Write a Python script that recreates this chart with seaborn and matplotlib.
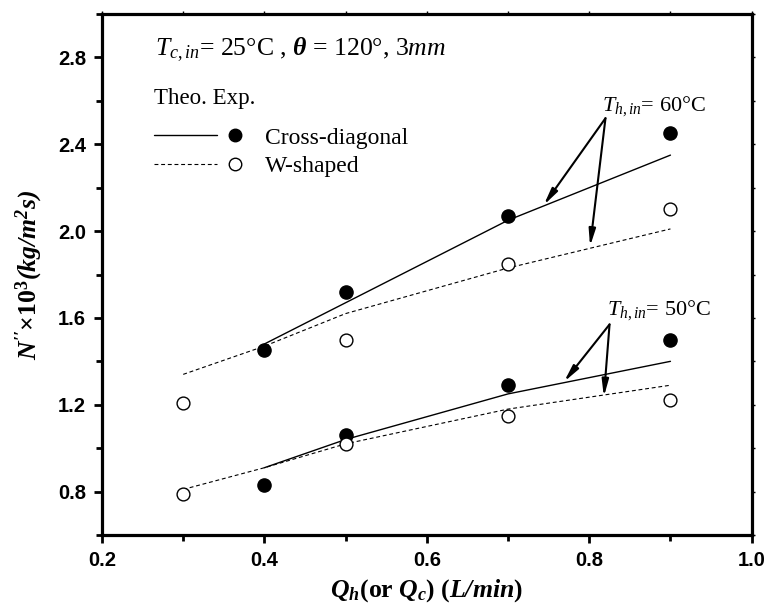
import numpy as np
import pandas as pd
import matplotlib
matplotlib.use("Agg")
import matplotlib.pyplot as plt
import seaborn as sns
from matplotlib.lines import Line2D
from matplotlib.legend_handler import HandlerBase
from matplotlib.ticker import MultipleLocator

# ---------------- data ----------------
exp_cross_x = [0.4, 0.5, 0.7, 0.9]
exp_cross_60 = [1.45, 1.72, 2.07, 2.45]
exp_cross_50 = [0.83, 1.06, 1.29, 1.50]
exp_w_x = [0.3, 0.5, 0.7, 0.9]
exp_w_60 = [1.21, 1.50, 1.85, 2.10]
exp_w_50 = [0.79, 1.02, 1.15, 1.22]

theo_cross_x = [0.4, 0.5, 0.7, 0.9]
theo_cross_60 = [1.48, 1.67, 2.05, 2.35]
theo_cross_50 = [0.91, 1.04, 1.25, 1.40]
theo_w_x = [0.3, 0.4, 0.5, 0.7, 0.9]
theo_w_60 = [1.34, 1.47, 1.62, 1.83, 2.01]
theo_w_50 = [0.81, 0.91, 1.02, 1.18, 1.29]

xticks = [0.2, 0.4, 0.6, 0.8, 1.0]
yticks = [0.8, 1.2, 1.6, 2.0, 2.4, 2.8]

# ---------------- style ----------------
sns.set_style("ticks")
plt.rcParams["font.family"] = ["Liberation Serif", "DejaVu Serif"]
plt.rcParams["mathtext.fontset"] = "custom"
plt.rcParams["mathtext.rm"] = "Liberation Serif"
plt.rcParams["mathtext.it"] = "Liberation Serif:italic"
plt.rcParams["mathtext.bf"] = "Liberation Serif:bold"
plt.rcParams["mathtext.bfit"] = "Liberation Serif:bold:italic"
plt.rcParams["axes.edgecolor"] = "black"
plt.rcParams["xtick.color"] = "black"
plt.rcParams["ytick.color"] = "black"
plt.rcParams["text.color"] = "black"
plt.rcParams["axes.labelcolor"] = "black"

fig = plt.figure(figsize=(7.67, 6.09), dpi=100)
ax = fig.add_axes([0.133, 0.1215, 0.847, 0.8555])

def frame(x, y, temp, kind):
    return pd.DataFrame({"x": x, "y": y, "temp": temp, "kind": kind})

theo = pd.concat([
    frame(theo_cross_x, theo_cross_60, "60", "Cross-diagonal"),
    frame(theo_cross_x, theo_cross_50, "50", "Cross-diagonal"),
    frame(theo_w_x, theo_w_60, "60", "W-shaped"),
    frame(theo_w_x, theo_w_50, "50", "W-shaped"),
], ignore_index=True)

dash = (0, (3.5, 2.5))
for (kind, temp), sub in theo.groupby(["kind", "temp"]):
    sns.lineplot(data=sub, x="x", y="y", ax=ax, color="black",
                 lw=1.0 if kind == "Cross-diagonal" else 0.8,
                 linestyle="-" if kind == "Cross-diagonal" else dash,
                 legend=False, sort=True)

exp_c = pd.concat([frame(exp_cross_x, exp_cross_60, "60", "c"),
                   frame(exp_cross_x, exp_cross_50, "50", "c")], ignore_index=True)
exp_w = pd.concat([frame(exp_w_x, exp_w_60, "60", "w"),
                   frame(exp_w_x, exp_w_50, "50", "w")], ignore_index=True)
sns.scatterplot(data=exp_c, x="x", y="y", ax=ax, color="black", s=90,
                edgecolor="black", linewidth=1, legend=False, zorder=5)
sns.scatterplot(data=exp_w, x="x", y="y", ax=ax, facecolor="white", s=85,
                edgecolor="black", linewidth=1, legend=False, zorder=5)

# ---------------- axes ----------------
ax.set_xlim(0.2, 1.0)
ax.set_ylim(0.6, 3.0)
ax.set_xticks(xticks)
ax.set_yticks(yticks)
ax.xaxis.set_minor_locator(MultipleLocator(0.1))
ax.yaxis.set_minor_locator(MultipleLocator(0.2))
ax.set_xticklabels([f"{v:.1f}" for v in xticks])
ax.set_yticklabels([f"{v:.1f}" for v in yticks])
for lab in ax.get_xticklabels() + ax.get_yticklabels():
    lab.set_fontfamily("Liberation Sans")
    lab.set_fontweight("bold")
    lab.set_fontsize(14.5)
for s in ax.spines.values():
    s.set_visible(True)
    s.set_linewidth(2.3)
    s.set_color("black")
ax.tick_params(which="major", direction="out", length=5.5, width=2.0, pad=6)
ax.tick_params(which="minor", direction="out", length=4, width=2.0)
ax.tick_params(which="both", top=True, right=True, labeltop=False, labelright=False)
for t in ax.xaxis.get_major_ticks() + ax.xaxis.get_minor_ticks():
    t.tick2line.set_markersize(2)
    t.tick2line.set_markeredgewidth(1)
for t in ax.yaxis.get_major_ticks() + ax.yaxis.get_minor_ticks():
    t.tick2line.set_markersize(2)
    t.tick2line.set_markeredgewidth(1)

ax.set_xlabel(r"$\mathbfit{Q_h}\mathbf{(or\ }\mathbfit{Q_c}\mathbf{)\ (}\mathbfit{L/min}\mathbf{)}$",
              fontsize=18.5, labelpad=5)
ax.set_ylabel(r"$\mathbfit{N''}\mathbf{\times10^3}\mathbfit{(kg/m^2s)}$",
              fontsize=18.5, labelpad=9)

# ---------------- texts ----------------
ax.text(0.0815, 0.921, r"$T_{c,in}$= 25°C , $\mathbfit{\theta}$ = 120°, 3$mm$",
        transform=ax.transAxes, fontsize=18.5, ha="left", va="baseline")

ax.text(0.816, 2.556, r"$T_{h,in}$= 60°C", fontsize=16, ha="left", va="baseline")
ax.text(0.822, 1.614, r"$T_{h,in}$= 50°C", fontsize=16, ha="left", va="baseline")

aprops = dict(arrowstyle="-|>,head_length=1.0,head_width=0.2", color="black",
              lw=1.5, shrinkA=0, shrinkB=0)
for tip in [(0.744, 2.12), (0.801, 1.93)]:
    ax.annotate("", xy=tip, xytext=(0.82, 2.52), arrowprops=aprops)
for tip in [(0.769, 1.306), (0.818, 1.237)]:
    ax.annotate("", xy=tip, xytext=(0.825, 1.57), arrowprops=aprops)

# ---------------- legend ----------------
class LineMarkerHandler(HandlerBase):
    def create_artists(self, legend, orig_handle, xdescent, ydescent,
                       width, height, fontsize, trans):
        ls, lw, fc = orig_handle
        y = height / 2 - ydescent
        l = Line2D([-xdescent, -xdescent + width * 0.72], [y, y], color="black",
                   linestyle=ls, lw=lw)
        m = Line2D([-xdescent + width * 0.93], [y], marker="o", markersize=9,
                   markerfacecolor=fc, markeredgecolor="black",
                   markeredgewidth=1, linestyle="none")
        l.set_transform(trans)
        m.set_transform(trans)
        return [l, m]

handles = [("-", 1.0, "black"), (dash, 0.8, "white")]
leg = ax.legend(handles, ["Cross-diagonal", "W-shaped"],
                handler_map={tuple: LineMarkerHandler()},
                loc="upper left", bbox_to_anchor=(0.08, 0.858),
                frameon=False, fontsize=17, title="Theo. Exp.",
                title_fontsize=16.5, handlelength=3.7, handletextpad=1.0,
                labelspacing=0.3, borderpad=0, borderaxespad=0)
leg._legend_box.align = "left"
leg._legend_box.sep = 13

fig.savefig("out.png", dpi=100)
